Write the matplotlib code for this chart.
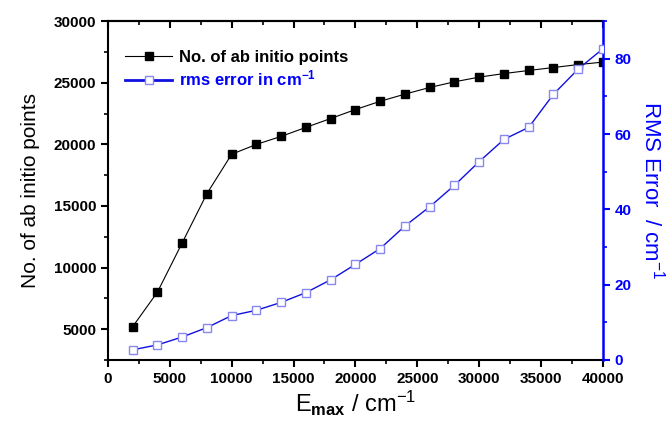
import matplotlib
matplotlib.use("Agg")
import matplotlib.pyplot as plt
from matplotlib.ticker import MultipleLocator
from matplotlib.lines import Line2D

plt.rcParams['font.family'] = ['Liberation Sans', 'DejaVu Sans']
plt.rcParams['mathtext.fontset'] = 'custom'
plt.rcParams['mathtext.rm'] = 'Liberation Sans'
plt.rcParams['mathtext.it'] = 'Liberation Sans:italic'
plt.rcParams['mathtext.bf'] = 'Liberation Sans:bold'

# data
e_max = [2000, 4000, 6000, 8000, 10000, 12000, 14000, 16000, 18000, 20000,
         22000, 24000, 26000, 28000, 30000, 32000, 34000, 36000, 38000, 40000]
n_points = [5200, 8000, 12000, 16000, 19200, 20000, 20650, 21380, 22100, 22830,
            23500, 24080, 24620, 25080, 25460, 25750, 26000, 26240, 26480, 26680]
rms_err = [2.7, 4.0, 6.1, 8.6, 11.8, 13.2, 15.3, 17.9, 21.3, 25.4,
           29.6, 35.6, 40.7, 46.4, 52.7, 58.6, 61.8, 70.6, 77.3, 82.7]

fig = plt.figure(figsize=(6.7, 4.24), dpi=100)
ax = fig.add_axes([0.161, 0.151, 0.739, 0.799])
ax2 = ax.twinx()

ax.plot(e_max, n_points, '-', color='black', lw=0.8, marker='s', ms=6,
        mfc='black', mec='black', zorder=3)
ax2.plot(e_max, rms_err, '-', color='#1010e0', lw=1.0, marker='s', ms=6,
         mfc='white', mec='#8888ee', mew=1.0, zorder=3)

ax.set_xlim(0, 40000)
ax.set_ylim(2500, 30000)
ax2.set_ylim(0, 90)

ax.xaxis.set_major_locator(MultipleLocator(5000))
ax.xaxis.set_minor_locator(MultipleLocator(2500))
ax.yaxis.set_major_locator(MultipleLocator(5000))
ax.yaxis.set_minor_locator(MultipleLocator(2500))
ax2.yaxis.set_major_locator(MultipleLocator(20))
ax2.yaxis.set_minor_locator(MultipleLocator(10))

ax.tick_params(axis='both', which='major', direction='out', length=5, width=1.5,
               labelsize=11)
ax.tick_params(axis='both', which='minor', direction='out', length=3, width=1.2)
ax2.tick_params(axis='y', which='major', direction='out', length=5, width=1.5,
                colors='blue', labelsize=11)
ax2.tick_params(axis='y', which='minor', direction='out', length=3, width=1.2,
                colors='blue')
for lab in ax.get_xticklabels() + ax.get_yticklabels() + ax2.get_yticklabels():
    lab.set_fontweight('bold')

# top ticks pointing inward
top = ax.secondary_xaxis('top')
top.xaxis.set_major_locator(MultipleLocator(5000))
top.xaxis.set_minor_locator(MultipleLocator(2500))
top.tick_params(which='major', direction='in', length=5, width=1.5, labeltop=False)
top.tick_params(which='minor', direction='in', length=3, width=1.2)
top.spines['top'].set_linewidth(1.5)

for s in ['left', 'bottom', 'top']:
    ax.spines[s].set_linewidth(1.5)
ax2.spines['right'].set_color('blue')
ax2.spines['right'].set_linewidth(1.8)
ax.spines['right'].set_visible(False)
for s in ['left', 'bottom', 'top']:
    ax2.spines[s].set_visible(False)

ax.set_xlabel(r'E$_{\mathbf{max}}$ / cm$^{-1}$', fontsize=17, labelpad=2)
ax.set_ylabel('No. of ab initio points', fontsize=15, labelpad=10)
ax2.set_ylabel(r'RMS Error  / cm$^{-1}$', fontsize=16, color='blue',
               rotation=270, labelpad=24)

handles = [
    Line2D([], [], color='black', lw=0.8, marker='s', ms=6, mfc='black', mec='black'),
    Line2D([], [], color='#1010e0', lw=2.0, marker='s', ms=6, mfc='white', mec='#8888ee'),
]
labels = ['No. of ab initio points', r'rms error in cm$^{\mathbf{-1}}$']
leg = ax.legend(handles, labels, loc='upper left', bbox_to_anchor=(0.005, 0.96),
                frameon=False, prop={'weight': 'bold', 'size': 12},
                handlelength=2.8, handletextpad=0.4, labelspacing=0.25,
                labelcolor=['black', 'blue'])

fig.savefig('out.png', dpi=100)
